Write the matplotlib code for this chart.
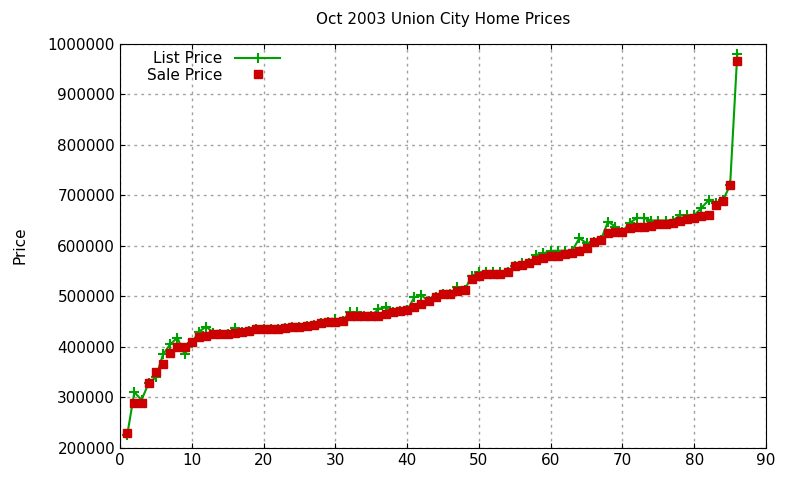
import matplotlib
matplotlib.use("Agg")
import matplotlib.pyplot as plt
from matplotlib.ticker import FormatStrFormatter

idx = list(range(1, 87))
sale = [230,288,288,328,350,365,388,400,400,410,420,422,425,425,425,428,430,432,435,435,
        435,435,437,440,440,442,443,447,450,450,452,460,460,460,460,460,465,468,470,472,
        478,485,490,498,505,505,510,512,535,540,545,545,545,548,560,562,565,572,575,580,
        580,583,585,590,595,608,612,625,628,628,635,637,637,640,643,643,645,650,652,655,
        658,660,680,688,720,965]
lst = [225,310,295,328,340,385,405,418,385,408,430,440,428,425,425,438,430,432,435,435,
       435,435,437,440,440,442,443,447,450,455,452,468,468,460,460,475,478,468,470,472,
       498,502,490,498,505,505,518,512,540,548,548,548,548,548,560,565,565,582,585,590,
       590,590,590,615,605,608,612,648,638,628,645,655,655,650,650,650,650,660,660,660,
       675,690,685,690,720,980]
sale = [v*1000 for v in sale]
lst = [v*1000 for v in lst]

fig = plt.figure(figsize=(8, 4.8), dpi=100)
ax = fig.add_axes([0.15, 0.067, 0.8075, 0.842])
ax.plot(idx, lst, color="#00a000", marker="+", markersize=7, mew=1.5, lw=1.5, label="List Price")
ax.plot(idx, sale, color="#cc0000", marker="s", markersize=6, ls="none", label="Sale Price")
ax.set_xlim(0, 90)
ax.set_ylim(200000, 1000000)
ax.set_xticks(range(0, 91, 10))
ax.set_yticks(range(200000, 1000001, 100000))
ax.yaxis.set_major_formatter(FormatStrFormatter("%d"))
ax.grid(True, color="#a0a0a0", ls=(0, (2, 3)), lw=1)
ax.tick_params(direction="in", labelsize=11, top=True, right=True)
fig.text(0.015, 0.49, "Price", rotation=90, fontsize=11, va="center", ha="left")
ax.set_title("Oct 2003 Union City Home Prices", fontsize=11, pad=14)
ax.legend(loc="upper left", frameon=False, fontsize=11, markerfirst=False,
          handlelength=3, borderaxespad=0.1, bbox_to_anchor=(0.03, 1.0), labelspacing=0.1)
fig.savefig("out.png")
